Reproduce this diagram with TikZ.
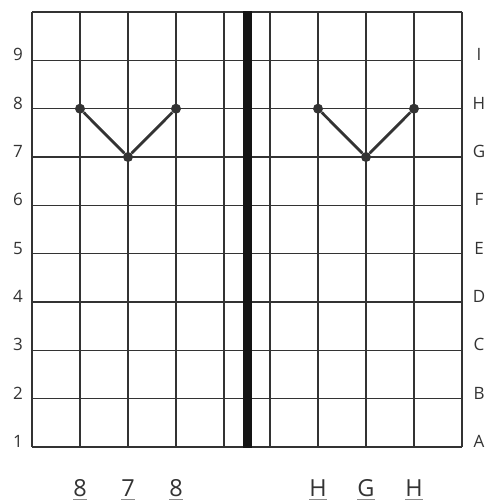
\documentclass[tikz,border=0pt]{standalone}
\usepackage{fontspec}
\setmainfont{Open Sans}
\definecolor{Tinta}{RGB}{51,51,51}
\tikzset{
  gridline/.style={draw=Tinta, line width=1.5pt},
  divider/.style={fill=black!92},
  dot/.style={circle, fill=Tinta, inner sep=0pt, minimum size=10pt},
  link/.style={draw=Tinta, line width=2.8pt},
  sidelabel/.style={anchor=base, inner sep=0pt, text=Tinta, font=\fontsize{17}{17}\selectfont},
  footlabel/.style={anchor=base, inner sep=0pt, text=Tinta, font=\fontsize{23.5}{23.5}\selectfont},
  footline/.style={draw=black!45, line width=1.6pt},
}

\begin{document}
\begin{tikzpicture}[x=1pt, y=-1pt]
    \useasboundingbox (0,0) rectangle (489,500);

    % --- grid ---
    \foreach \k in {0,...,9} {
      \draw[gridline] (32,12+48.33*\k) -- (462,12+48.33*\k);
    }
    \foreach \gx in {32,80,128,176,224,270,318,366,414,462} {
      \draw[gridline] (\gx,12) -- (\gx,447);
    }

    % --- centre bar ---
    \fill[divider] (243,11.3) rectangle (251.5,447.7);

    % --- row labels ---
    \foreach \nr/\lt [count=\i from 0] in {1/A,2/B,3/C,4/D,5/E,6/F,7/G,8/H,9/I} {
      \node[sidelabel] (num\nr) at (18,447.5-48.33*\i) {\nr};
      \node[sidelabel] (let\lt) at (479,447.5-48.33*\i) {\lt};
    }

    % --- left pattern ---
    \node[dot] (la) at (80,108.7) {};
    \node[dot] (lb) at (128,157) {};
    \node[dot] (lc) at (176,108.7) {};
    \draw[link] (la) -- (lb) -- (lc);

    % --- right pattern ---
    \node[dot] (ra) at (318,108.7) {};
    \node[dot] (rb) at (366,157) {};
    \node[dot] (rc) at (414,108.7) {};
    \draw[link] (ra) -- (rb) -- (rc);

    % --- bottom labels ---
    \foreach \name/\bx/\txt in {b1/80/8, b2/128/7, b3/176/8, b4/318/H, b5/366/G, b6/414/H} {
      \node[footlabel] (\name) at (\bx,496.5) {\txt};
      \draw[footline] ([yshift=-3pt]\name.base west) -- ([yshift=-3pt]\name.base east);
    }

\end{tikzpicture}
\end{document}
